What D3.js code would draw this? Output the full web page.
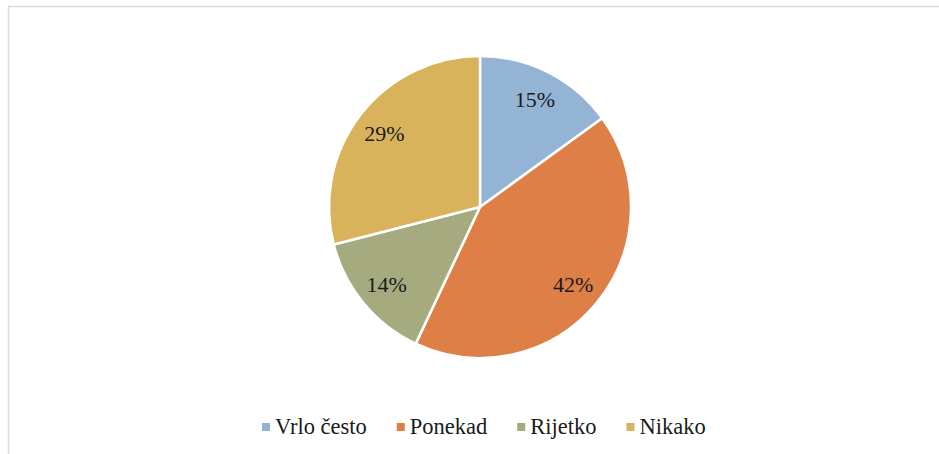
<!DOCTYPE html>
<html>
<head>
    <meta charset="utf-8">
    <title>Pie</title>
    <script type="text/javascript" src="https://cdn.jsdelivr.net/npm/d3@7"></script>
    <style type="text/css">
        html, body { margin: 0; padding: 0; background: #fff; }
        svg { display: block; }
    </style>
</head>
<body>
<svg></svg>
<script type="text/javascript">
    var categories = ["Vrlo često", "Ponekad", "Rijetko", "Nikako"];
    var values = [15, 42, 14, 29];
    var labels = ["15%", "42%", "14%", "29%"];
    var colors = ["#93b4d5", "#de7f47", "#a5ab7f", "#d8b35c"];

    var w = 939, h = 454,
        cx = 480, cy = 207, r = 151;
    var serif = "'Liberation Serif', 'Times New Roman', serif";

    var svg = d3.select("svg")
        .attr("width", w)
        .attr("height", h)
        .attr("font-family", serif);

    // chart frame (runs off the right and bottom edge)
    svg.append("rect")
        .attr("x", 8.5).attr("y", 6.5)
        .attr("width", 960).attr("height", 480)
        .attr("fill", "none")
        .attr("stroke", "#d9d9d9")
        .attr("stroke-width", 1.5);

    var pie = d3.pie().sort(null).value(function(d){ return d; });
    var arc = d3.arc().innerRadius(0).outerRadius(r);
    var labelArc = d3.arc().innerRadius(121 * 2 - r).outerRadius(r);

    var g = svg.append("g").attr("transform", "translate(" + cx + "," + cy + ")");
    var arcs = pie(values);

    g.selectAll("path")
        .data(arcs)
        .enter().append("path")
        .attr("d", arc)
        .attr("fill", function(d, i){ return colors[i]; })
        .attr("stroke", "#fff")
        .attr("stroke-width", 2.5)
        .attr("stroke-linejoin", "round");

    g.selectAll("text")
        .data(arcs)
        .enter().append("text")
        .attr("transform", function(d){ return "translate(" + labelArc.centroid(d) + ")"; })
        .attr("text-anchor", "middle")
        .attr("dy", "0.35em")
        .attr("font-size", 22)
        .attr("fill", "#1a1a1a")
        .text(function(d, i){ return labels[i]; });

    // legend, laid out from measured text widths and centred
    var legend = svg.append("g");
    var items = legend.selectAll("g")
        .data(categories)
        .enter().append("g");
    items.append("rect")
        .attr("width", 8).attr("height", 8)
        .attr("y", 423)
        .attr("fill", function(d, i){ return colors[i]; });
    items.append("text")
        .attr("x", 13).attr("y", 434)
        .attr("font-size", 22.5)
        .attr("fill", "#1a1a1a")
        .text(function(d){ return d; });

    var gap = 30, xpos = 0;
    items.each(function(){
        var item = d3.select(this);
        item.attr("transform", "translate(" + xpos + ",0)");
        xpos += 13 + item.select("text").node().getComputedTextLength() + gap;
    });
    var total = xpos - gap;
    legend.attr("transform", "translate(" + Math.round(484 - total / 2) + ",0)");
</script>
</body>
</html>
